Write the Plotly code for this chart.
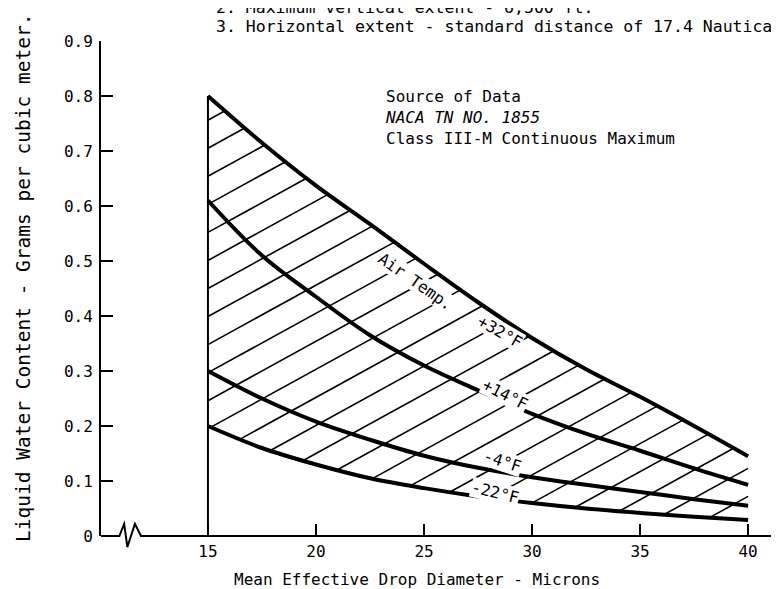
import numpy as np
import plotly.graph_objects as go

# drop diameter (microns) and liquid water content (g/m^3) per air temperature
drop_diameter = [15, 17.5, 20, 22.5, 25, 27.5, 30, 32.5, 35, 37.5, 40]
lwc_plus32 = [0.80, 0.715, 0.637, 0.567, 0.495, 0.425, 0.36, 0.303, 0.253, 0.20, 0.145]
lwc_plus14 = [0.61, 0.51, 0.435, 0.365, 0.31, 0.265, 0.222, 0.186, 0.155, 0.123, 0.093]
lwc_minus4 = [0.30, 0.25, 0.208, 0.175, 0.146, 0.124, 0.107, 0.093, 0.080, 0.067, 0.055]
lwc_minus22 = [0.20, 0.16, 0.13, 0.105, 0.087, 0.072, 0.060, 0.050, 0.042, 0.035, 0.029]

x_ticks = [15, 20, 25, 30, 35, 40]
y_ticks = [0, 0.1, 0.2, 0.3, 0.4, 0.5, 0.6, 0.7, 0.8, 0.9]
y_ticktext = ["0", "0.1", "0.2", "0.3", "0.4", "0.5", "0.6", "0.7", "0.8", "0.9"]

# baseline with the axis break symbol (x in microns, y in g/m^3)
break_x = [10.05, 10.9, 11.12, 11.27, 11.62, 11.9, 41.8]
break_y = [0, 0, 0.022, -0.02, 0.022, 0, 0]

FONT = "DejaVu Sans Mono"
X_RANGE = [10.05, 41.8]
Y_RANGE = [0, 0.9]

# hatching: slope and spacing of the diagonal lines
HATCH_SLOPE = 0.0216
HATCH_STEP = 0.051
HATCH_START = 0.756


def hatch_lines(xs, top, bottom):
    grid = np.linspace(xs[0], xs[-1], 2501)
    t = np.interp(grid, xs, top)
    b = np.interp(grid, xs, bottom)
    hx, hy = [], []
    c = HATCH_START
    while c > bottom[-1] - HATCH_SLOPE * (xs[-1] - xs[0]) - HATCH_STEP:
        yl = c + HATCH_SLOPE * (grid - xs[0])
        inside = np.where((yl <= t) & (yl >= b))[0]
        if len(inside) > 1:
            i0, i1 = inside[0], inside[-1]
            hx += [grid[i0], grid[i1], None]
            hy += [yl[i0], yl[i1], None]
        c -= HATCH_STEP
    return hx, hy


fig = go.Figure()

hx, hy = hatch_lines(drop_diameter, lwc_plus32, lwc_minus22)
fig.add_trace(go.Scatter(x=hx, y=hy, mode="lines",
                         line=dict(color="black", width=1.6), hoverinfo="skip"))

# left boundary of the envelope
fig.add_trace(go.Scatter(x=[drop_diameter[0], drop_diameter[0]], y=[0, lwc_plus32[0]],
                         mode="lines", line=dict(color="black", width=2)))

for series in [lwc_plus32, lwc_plus14, lwc_minus4, lwc_minus22]:
    fig.add_trace(go.Scatter(x=drop_diameter, y=series, mode="lines",
                             line=dict(color="black", width=4, shape="spline", smoothing=1)))

# baseline drawn as a shape so the break dips below the plot area unclipped
path = "M " + " L ".join(f"{bx},{by / Y_RANGE[1]}" for bx, by in zip(break_x, break_y))
fig.add_shape(type="path", path=path, xref="x", yref="paper",
              line=dict(color="black", width=2))

labels = [
    ("Air Temp.", 24.6, 0.462, 35),
    ("+32°F", 28.5, 0.372, 30),
    ("+14°F", 28.75, 0.257, 27),
    ("-4°F", 28.65, 0.135, 18),
    ("-22°F", 28.3, 0.079, 14),
]
for text, x, y, ang in labels:
    fig.add_annotation(x=x, y=y, text=text, showarrow=False, textangle=ang,
                       xanchor="center", yanchor="middle",
                       font=dict(family=FONT, size=16, color="black"),
                       bgcolor="white", borderpad=0)

fig.add_annotation(x=23.1, y=0.82, xanchor="left", yanchor="top", align="left",
                   text="Source of Data<br><i>NACA TN NO. 1855</i><br>Class III-M Continuous Maximum",
                   showarrow=False, font=dict(family=FONT, size=16, color="black"))

fig.add_annotation(xref="paper", yref="paper", x=-0.114, y=0.521, textangle=-90,
                   xanchor="center", yanchor="middle",
                   text="Liquid Water Content - Grams per cubic meter.", showarrow=False,
                   font=dict(family=FONT, size=19.5, color="black"))
fig.add_annotation(xref="paper", yref="paper", x=0.46, y=-0.087,
                   xanchor="center", yanchor="middle",
                   text="Mean Effective Drop Diameter - Microns", showarrow=False,
                   font=dict(family=FONT, size=16, color="black"))
fig.add_annotation(xref="paper", yref="paper", x=0.164, y=1.030, xanchor="left", yanchor="middle",
                   text="3. Horizontal extent - standard distance of 17.4 Nautical Miles.",
                   showarrow=False, font=dict(family=FONT, size=16.5, color="black"))
fig.add_annotation(xref="paper", yref="paper", x=0.164, y=1.067, xanchor="left", yanchor="middle",
                   text="2. Maximum vertical extent - 6,500 ft.",
                   showarrow=False, font=dict(family=FONT, size=16.5, color="black"))

fig.update_layout(
    width=779, height=589,
    margin=dict(l=93, r=0, t=33, b=61),
    plot_bgcolor="white", paper_bgcolor="white",
    showlegend=False,
    font=dict(family=FONT, size=16, color="black"),
)
fig.update_xaxes(range=X_RANGE, tickvals=x_ticks, ticks="inside", ticklen=12, tickwidth=2,
                 tickcolor="black", showline=False, showgrid=False, zeroline=False,
                 ticklabelstandoff=4)
fig.update_yaxes(range=Y_RANGE, tickvals=y_ticks, ticktext=y_ticktext, ticks="inside",
                 ticklen=12, tickwidth=2, tickcolor="black", showline=True, linewidth=2,
                 linecolor="black", showgrid=False, zeroline=False, ticklabelstandoff=3)

fig.write_html("out.html")
